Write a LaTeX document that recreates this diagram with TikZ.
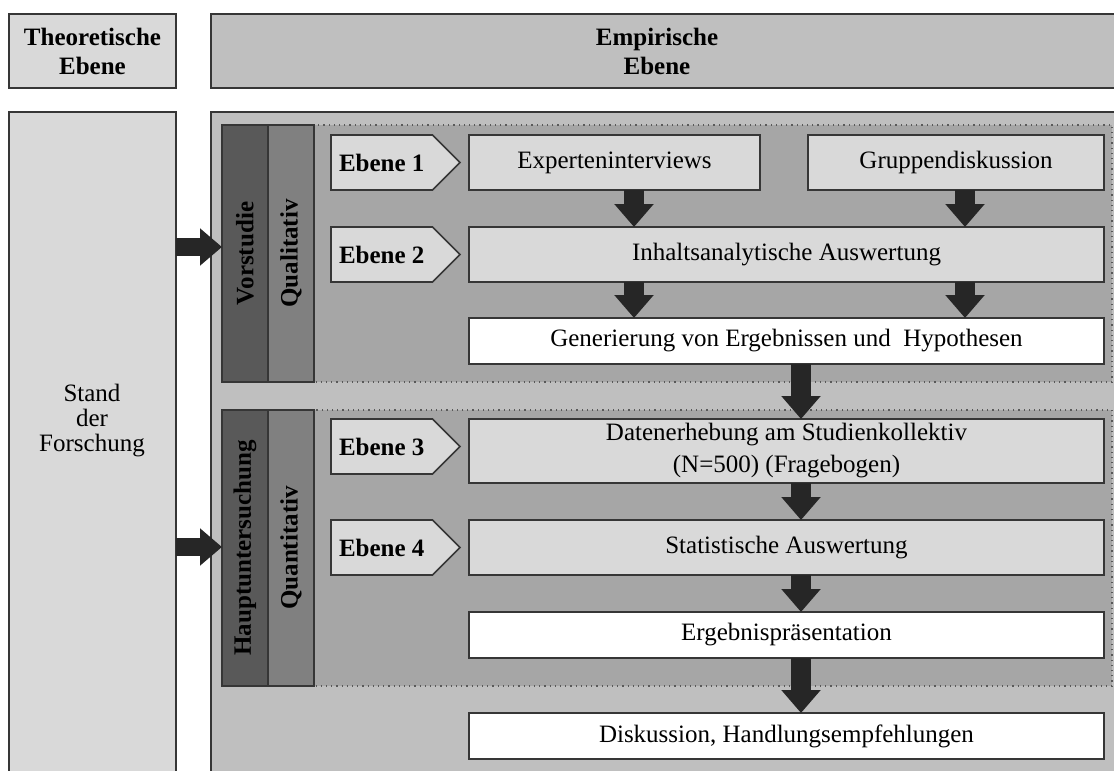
\documentclass[tikz,border=0pt]{standalone}
\usepackage{fontspec}
\setmainfont{Liberation Serif}
\usepackage{tikz}
\usepackage{xcolor}
\usetikzlibrary{positioning}
\usetikzlibrary{arrows.meta}
\usetikzlibrary{shapes.symbols}
\definecolor{boxline}{HTML}{363636}
\definecolor{lightfill}{HTML}{D9D9D9}
\definecolor{areafill}{HTML}{BFBFBF}
\definecolor{studyfill}{HTML}{A6A6A6}
\definecolor{darkcol}{HTML}{595959}
\definecolor{midcol}{HTML}{808080}
\definecolor{arrowfill}{HTML}{262626}
\newcommand{\plainfont}{\fontsize{12.5}{15}\selectfont}
\tikzstyle{boxframe} = [
    draw=boxline,
    line width=0.8pt,
    inner sep=0pt,
    outer sep=0pt,
    align=center,
    font=\plainfont
]
\tikzstyle{lbox} = [
    boxframe,
    fill=lightfill,
    minimum width=317.5pt,
    minimum height=27.5pt
]
\tikzstyle{wbox} = [
    boxframe,
    fill=white,
    minimum width=317.5pt,
    minimum height=23pt
]
\tikzstyle{ebenetag} = [
    boxframe,
    fill=lightfill,
    shape=signal,
    signal to=east,
    signal pointer angle=90,
    minimum width=64.5pt,
    minimum height=27.5pt,
    font=\plainfont\bfseries
]
\tikzstyle{studyarea} = [
    draw=darkcol,
    dotted,
    line width=0.6pt,
    fill=studyfill,
    inner sep=0pt,
    outer sep=0pt,
    minimum width=445pt
]
\tikzstyle{colbox} = [
    boxframe,
    minimum width=23pt,
    font=\plainfont\bfseries
]
\tikzstyle{downarrow} = [
    line width=10pt,
    draw=arrowfill,
    -{Triangle[length=11.5pt, width=19pt]}
]
\tikzstyle{sidearrow} = [
    line width=9pt,
    draw=arrowfill,
    -{Triangle[length=11pt, width=18pt]}
]

\begin{document}
\begin{tikzpicture}[x=0.5pt, y=-0.5pt]
	\useasboundingbox (0,0) rectangle (1114,771);
	\clip (0,0) rectangle (1114,771);
	
	%
	% Header
	\node[boxframe, fill=lightfill, minimum width=83.5pt, minimum height=37pt, anchor=north west, font=\fontsize{12.5}{14.5}\selectfont\bfseries] (theo) at (9,14) {Theoretische\\Ebene};
	\node[boxframe, fill=areafill, minimum width=460pt, minimum height=37pt, anchor=north west] (emp) at (211,14) {};
	\node[align=center, font=\fontsize{12.5}{14.5}\selectfont\bfseries] (emptext) at (657,51) {Empirische\\Ebene};
	
	%
	% Background columns
	\node[boxframe, fill=lightfill, minimum width=83.5pt, minimum height=340pt, anchor=north west] (stand) at (9,112) {};
	\node[align=center, font=\fontsize{12.5}{12.5}\selectfont] (standtext) at (92,421) {Stand\\der\\Forschung};
	\node[boxframe, fill=areafill, minimum width=460pt, minimum height=340pt, anchor=north west] (area) at (211,112) {};
	
	%
	% Vorstudie
	\node[studyarea, minimum height=128.5pt, anchor=north west] (pre) at (222,125) {};
	\node[colbox, fill=darkcol, minimum height=128.5pt, anchor=north west] (vor) at (222,125) {\rotatebox{90}{Vorstudie}};
	\node[colbox, fill=midcol, minimum height=128.5pt, right=0pt of vor] (qual) {\rotatebox{90}{Qualitativ}};
	
	\node[lbox, minimum width=145.5pt, anchor=north west] (expert) at (469,135) {Experteninterviews};
	\node[lbox, minimum width=148pt, anchor=north west] (gruppe) at (808,135) {Gruppendiskussion};
	\node[lbox, below=18.5pt of expert.south west, anchor=north west] (inhalt) {Inhaltsanalytische Auswertung};
	\node[wbox, below=18pt of inhalt.south west, anchor=north west] (gener) {Generierung von Ergebnissen und\ \ Hypothesen};
	\node[ebenetag, left=4.5pt of expert] (e1) {Ebene 1};
	\node[ebenetag, left=4.5pt of inhalt] (e2) {Ebene 2};
	
	%
	% Hauptuntersuchung
	\node[studyarea, minimum height=138pt, anchor=north west] (main) at (222,410) {};
	\node[colbox, fill=darkcol, minimum height=138pt, anchor=north west] (haupt) at (222,410) {\rotatebox{90}{Hauptuntersuchung}};
	\node[colbox, fill=midcol, minimum height=138pt, right=0pt of haupt] (quant) {\rotatebox{90}{Quantitativ}};
	
	\node[lbox, minimum height=32pt, below=27.5pt of gener.south west, anchor=north west, font=\fontsize{12.5}{16}\selectfont] (daten) {Datenerhebung am Studienkollektiv\\(N=500) (Fragebogen)};
	\node[lbox, below=18.5pt of daten.south west, anchor=north west] (stat) {Statistische Auswertung};
	\node[wbox, below=18.5pt of stat.south west, anchor=north west] (ergeb) {Ergebnispräsentation};
	\node[wbox, below=27.5pt of ergeb.south west, anchor=north west] (disk) {Diskussion, Handlungsempfehlungen};
	\node[ebenetag, left=4.5pt of daten.west, yshift=2.25pt] (e3) {Ebene 3};
	\node[ebenetag, left=4.5pt of stat] (e4) {Ebene 4};
	
	%
	% Arrows
	\coordinate (c1) at (634,0);
	\coordinate (c2) at (965,0);
	\coordinate (c3) at (801,0);
	\coordinate (r1) at (0,247);
	\coordinate (r2) at (0,547);
	\draw[downarrow] (expert.south -| c1) -- (inhalt.north -| c1);
	\draw[downarrow] (gruppe.south -| c2) -- (inhalt.north -| c2);
	\draw[downarrow] (inhalt.south -| c1) -- (gener.north -| c1);
	\draw[downarrow] (inhalt.south -| c2) -- (gener.north -| c2);
	\draw[downarrow] (gener.south -| c3) -- (daten.north -| c3);
	\draw[downarrow] (daten.south -| c3) -- (stat.north -| c3);
	\draw[downarrow] (stat.south -| c3) -- (ergeb.north -| c3);
	\draw[downarrow] (ergeb.south -| c3) -- (disk.north -| c3);
	\draw[sidearrow] (stand.east |- r1) -- (vor.west |- r1);
	\draw[sidearrow] (stand.east |- r2) -- (haupt.west |- r2);
	
\end{tikzpicture}
\end{document}
